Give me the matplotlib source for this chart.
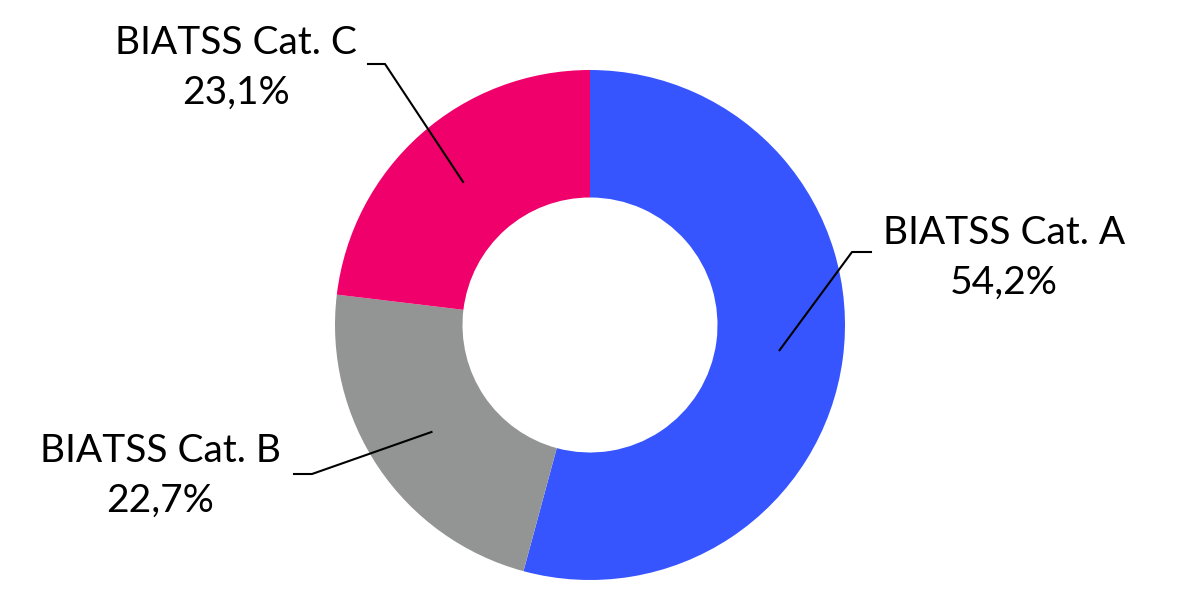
import numpy as np
import matplotlib
matplotlib.use("Agg")
import matplotlib.pyplot as plt

# données
categories = ['BIATSS Cat. A', 'BIATSS Cat. B', 'BIATSS Cat. C']
valeurs = [54.2, 22.7, 23.1]
couleurs = ['#3755FF', '#939594', '#F0006A']

plt.rcParams['font.family'] = ['Lato', 'DejaVu Sans']

fig = plt.figure(figsize=(11.8, 5.92), dpi=100)
ax = fig.add_axes([0, 0, 1, 1])

wedges, _ = ax.pie(valeurs, colors=couleurs, startangle=90, counterclock=False,
                   radius=1.0, wedgeprops=dict(width=0.5, linewidth=0))

R = 255.0  # rayon en pixels
ax.set_xlim(-590 / R, 590 / R)
ax.set_ylim(-267 / R, 325 / R)
ax.set_aspect('equal')
ax.axis('off')

def px(x, y):
    return ((x - 590) / R, (325 - y) / R)

# coude, fin de la ligne, position du texte
etiquettes = [
    (px(852, 252), px(871, 252), px(1004, 258)),
    (px(312, 474), px(294, 474), px(160, 476)),
    (px(385, 64), px(368, 64), px(236, 68)),
]

for w, cat, val, (coude, fin, pos) in zip(wedges, categories, valeurs, etiquettes):
    ang = np.deg2rad((w.theta1 + w.theta2) / 2)
    x0, y0 = 0.75 * np.cos(ang), 0.75 * np.sin(ang)
    ax.plot([x0, coude[0], fin[0]], [y0, coude[1], fin[1]], color='black', lw=1.5)
    texte = f"{cat}\n{str(val).replace('.', ',')}%"
    ax.text(pos[0], pos[1], texte, ha='center', va='center', fontsize=28,
            linespacing=1.45, color='black')

fig.savefig('out.png', dpi=100)
